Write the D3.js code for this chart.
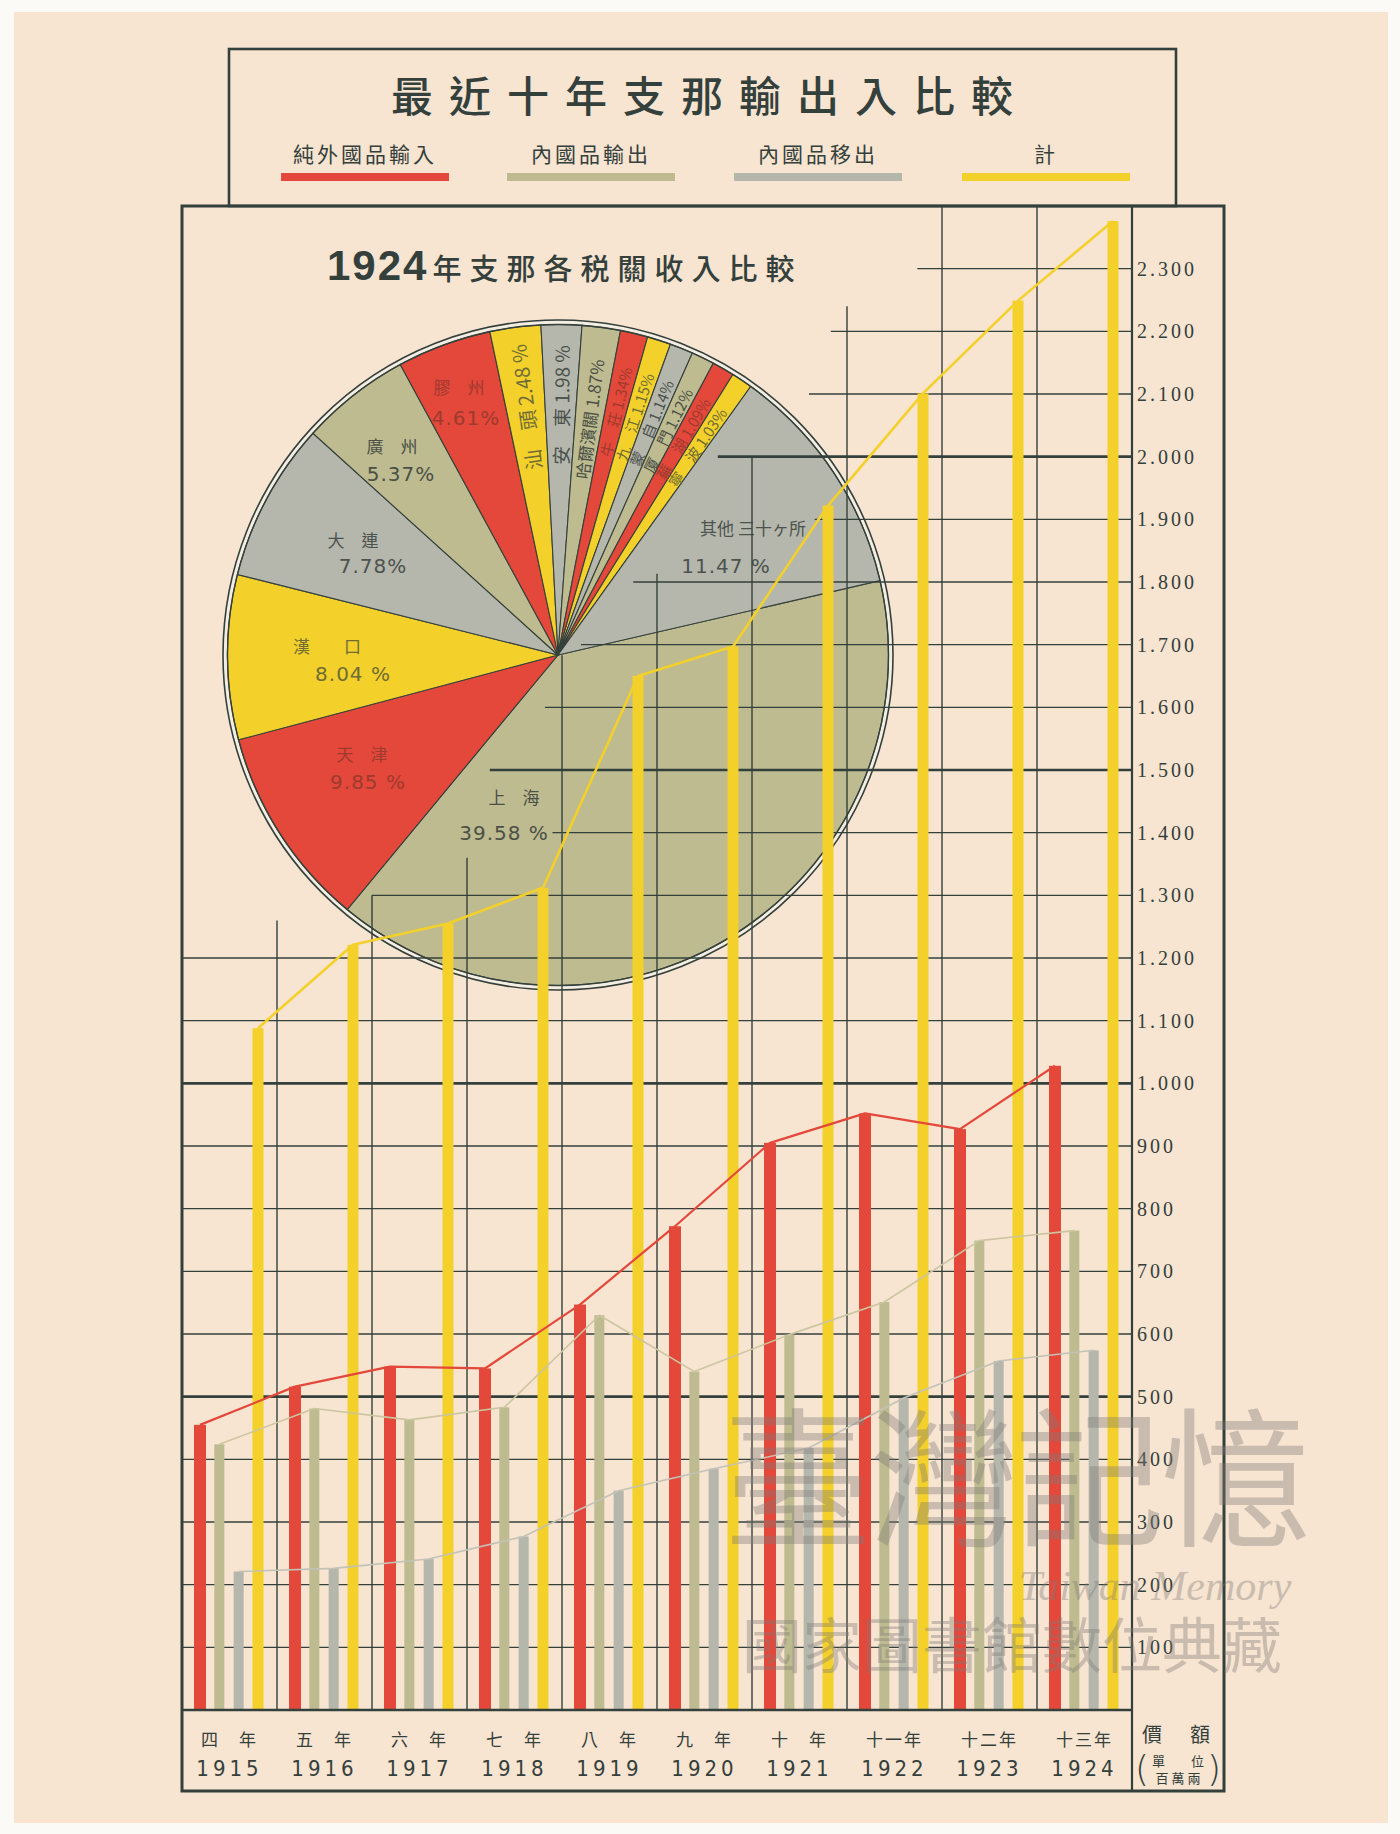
<!DOCTYPE html>
<html>
<head>
<meta charset="UTF-8">
<title>最近十年支那輸出入比較</title>
<script src="https://d3js.org/d3.v7.min.js"></script>
<style>
  body { margin: 0; background: #fbfaf7; }
  text { font-family: "Noto Sans CJK TC", "Noto Sans CJK JP", sans-serif; fill: #34403b; }
</style>
</head>
<body>
<div id="chart"></div>
<script>
// ---- data (百萬兩) ----
var years = ["1915", "1916", "1917", "1918", "1919", "1920", "1921", "1922", "1923", "1924"];
var yearsJp = ["四　年", "五　年", "六　年", "七　年", "八　年", "九　年", "十　年", "十一年", "十二年", "十三年"];
var seriesNames = ["純外國品輸入", "內國品輸出", "內國品移出", "計"];
var imports   = [455, 516, 548, 545, 647, 772, 905, 952, 927, 1028];   // 純外國品輸入
var exports   = [424, 481, 463, 483, 630, 540, 599, 651, 749, 765];    // 內國品輸出
var transfers = [221, 226, 241, 277, 350, 385, 418, 498, 557, 574];    // 內國品移出
var totals    = [1088, 1221, 1255, 1312, 1650, 1697, 1922, 2101, 2249, 2376]; // 計
var tickValues = [100, 200, 300, 400, 500, 600, 700, 800, 900, 1000, 1100, 1200,
                  1300, 1400, 1500, 1600, 1700, 1800, 1900, 2000, 2100, 2200, 2300];
var tickLabels = ["100", "200", "300", "400", "500", "600", "700", "800", "900", "1.000", "1.100", "1.200",
                  "1.300", "1.400", "1.500", "1.600", "1.700", "1.800", "1.900", "2.000", "2.100", "2.200", "2.300"];

// 1924年支那各税關收入比較 (%)
var ports = ["上海", "天津", "漢口", "大連", "廣州", "膠州", "汕頭", "安東", "哈爾濱關",
             "牛荘", "九江", "蒙自", "厦門", "蕪湖", "寧波", "其他三十ヶ所"];
var portShares = [39.58, 9.85, 8.04, 7.78, 5.37, 4.61, 2.48, 1.98, 1.87,
                  1.34, 1.15, 1.14, 1.12, 1.09, 1.03, 11.47];

// ---- style / layout ----
var C = { red: "#e4483a", olive: "#bdbb8f", grey: "#b5b7ad", yellow: "#f4d02b",
          ink: "#34403b", paper: "#f7e4d1" };
var seriesColors = [C.red, C.olive, C.grey, C.yellow];
var barWidths = [12, 10, 10, 11];
var lineColors = [C.red, "#cbc6a0", "#c2c2b7", C.yellow];
var lineWidths = [2.2, 1.6, 1.6, 2.6];
var pieColors = [C.olive, C.red, C.yellow, C.grey];
var textOn = {};
textOn[C.olive] = "#4a5046"; textOn[C.red] = "#9e3a2e"; textOn[C.yellow] = "#6f6d35"; textOn[C.grey] = "#4c524e";

// where grid lines above 1000 begin (column units from the left frame)
var hStart = {1300: 2.0, 1400: 3.9, 1500: 3.24, 1600: 3.82, 1700: 4.2, 1800: 4.75,
              1900: 6.66, 2000: 5.64, 2100: 6.6, 2200: 6.83, 2300: 7.74};
// top of each vertical column line (value units)
var vTop = [2400, 1260, 1300, 1360, 1683, 1813, 2000, 2240, 2400, 2400, 2400];

var W = 1400, H = 1834;
var plotLeft = 182, plotRight = 1132, frameRight = 1224, plotTop = 206, base = 1710, frameBottom = 1791;

var svg = d3.select("#chart").append("svg")
    .attr("width", W).attr("height", H);

// paper
svg.append("rect").attr("x", 14).attr("y", 12).attr("width", 1374).attr("height", 1811)
    .attr("fill", C.paper);

var x = d3.scaleBand().domain(years).range([plotLeft, plotRight]).padding(0);
var xs = d3.scalePoint().domain(seriesNames).range([18, 76]);
var y = d3.scaleLinear().domain([0, 2400]).range([base, plotTop]);
var col = x.bandwidth();

// ---- pie ----
var pcx = 558, pcy = 655, pr = 330.5;
var pie = d3.pie().sort(null)
    .startAngle(77 * Math.PI / 180).endAngle(77 * Math.PI / 180 + 2 * Math.PI)
    .value(function (d) { return d; });
var arcs = pie(portShares);
var arc = d3.arc().innerRadius(0).outerRadius(pr);
var gp = svg.append("g").attr("transform", "translate(" + pcx + "," + pcy + ")");
gp.append("circle").attr("r", 335).attr("fill", "#f3ede2").attr("stroke", C.ink).attr("stroke-width", 1.6);
gp.selectAll("path.slice").data(arcs).enter().append("path")
    .attr("class", "slice")
    .attr("d", arc)
    .attr("fill", function (d, i) { return pieColors[i % 4]; })
    .attr("stroke", C.ink).attr("stroke-width", 1.1);
gp.append("circle").attr("r", pr).attr("fill", "none").attr("stroke", C.ink).attr("stroke-width", 1.4);

// big slice labels: [name dx, name dy, pct dx, pct dy]
var bigLabels = {
  "上海": [-44, 141, -54, 178], "天津": [-196, 98, -190, 127], "漢口": [-231, -10, -205, 19],
  "大連": [-205, -116, -185, -89], "廣州": [-166, -210, -157, -181], "膠州": [-99, -269, -92, -237],
  "其他三十ヶ所": [195, -128, 168, -89]
};
var bigNames = { "上海": "上　海", "天津": "天　津", "漢口": "漢　　口", "大連": "大　連",
                 "廣州": "廣　州", "膠州": "膠　州", "其他三十ヶ所": "其他 三十ヶ所" };
arcs.forEach(function (a, i) {
  var name = ports[i], fill = pieColors[i % 4], tc = textOn[fill];
  var pct = portShares[i].toFixed(2) + (name === "上海" || name === "天津" || name === "漢口" || name === "其他三十ヶ所" ? " %" : "%");
  if (bigLabels[name]) {
    var p = bigLabels[name];
    gp.append("text").attr("x", p[0]).attr("y", p[1]).attr("text-anchor", "middle")
      .attr("dominant-baseline", "central").style("font-size", "17px").style("fill", tc)
      .text(bigNames[name]);
    gp.append("text").attr("x", p[2]).attr("y", p[3]).attr("text-anchor", "middle")
      .attr("dominant-baseline", "central")
      .style("font-family", "'DejaVu Sans', sans-serif").style("font-size", "20px")
      .style("letter-spacing", "1px").style("fill", tc)
      .text(pct);
  } else {
    var mid = (a.startAngle + a.endAngle) / 2;
    var deg = mid * 180 / Math.PI;
    var fs = name === "汕頭" ? 20 : (name === "安東" ? 19 : (name === "哈爾濱關" ? 17 : 15));
    var r = name === "哈爾濱關" ? 238 : 250;
    var lbl = name.length === 2 ? name[0] + "　" + name[1] : name;
    gp.append("text")
      .attr("transform", "translate(" + (r * Math.sin(mid)) + "," + (-r * Math.cos(mid)) + ") rotate(" + (deg - 90) + ")")
      .attr("text-anchor", "middle").attr("dominant-baseline", "central")
      .style("font-size", fs + "px").style("fill", tc)
      .text(lbl + "  " + portShares[i].toFixed(2) + (name === "汕頭" || name === "安東" ? " %" : "%"));
  }
});

// ---- grid ----
var grid = svg.append("g").attr("stroke", C.ink).attr("fill", "none");
tickValues.forEach(function (v) {
  var sx = hStart[v] !== undefined ? plotLeft + hStart[v] * col : plotLeft;
  grid.append("line").attr("x1", sx).attr("x2", plotRight)
    .attr("y1", y(v)).attr("y2", y(v))
    .attr("stroke-width", v % 500 === 0 ? 2.6 : 1.4);
});
vTop.forEach(function (t, i) {
  grid.append("line").attr("x1", plotLeft + i * col).attr("x2", plotLeft + i * col)
    .attr("y1", y(t)).attr("y2", base).attr("stroke-width", 1.4);
});

// ---- bars ----
var series = [imports, exports, transfers, totals];
series.forEach(function (vals, s) {
  svg.append("g").selectAll("rect").data(vals).enter().append("rect")
    .attr("x", function (d, i) { return x(years[i]) + xs(seriesNames[s]) - barWidths[s] / 2; })
    .attr("y", function (d) { return y(d); })
    .attr("width", barWidths[s])
    .attr("height", function (d) { return base - y(d); })
    .attr("fill", seriesColors[s]);
});
// connecting lines
series.forEach(function (vals, s) {
  var line = d3.line()
    .x(function (d, i) { return x(years[i]) + xs(seriesNames[s]); })
    .y(function (d) { return y(d); });
  svg.append("path").datum(vals).attr("d", line)
    .attr("fill", "none").attr("stroke", lineColors[s]).attr("stroke-width", lineWidths[s])
    .attr("stroke-linejoin", "round");
});

// ---- frame & axis ----
svg.append("line").attr("x1", plotLeft).attr("x2", plotRight).attr("y1", base).attr("y2", base)
  .attr("stroke", C.ink).attr("stroke-width", 2.6);
svg.append("line").attr("x1", plotRight).attr("x2", plotRight).attr("y1", plotTop).attr("y2", frameBottom)
  .attr("stroke", C.ink).attr("stroke-width", 2.2);
svg.append("rect").attr("x", plotLeft).attr("y", plotTop).attr("width", frameRight - plotLeft).attr("height", frameBottom - plotTop)
  .attr("fill", "none").attr("stroke", C.ink).attr("stroke-width", 3);

var axis = svg.append("g").attr("transform", "translate(" + plotRight + ",0)")
  .call(d3.axisRight(y).tickValues(tickValues).tickSize(0).tickPadding(5)
        .tickFormat(function (d, i) { return tickLabels[i]; }));
axis.select(".domain").remove();
axis.selectAll("text")
  .style("font-family", "'Liberation Serif', 'DejaVu Serif', serif")
  .style("font-size", "20px").style("letter-spacing", "3px").style("fill", C.ink);

// year labels
svg.append("g").selectAll("text").data(yearsJp).enter().append("text")
  .attr("x", function (d, i) { return x(years[i]) + col / 2; })
  .attr("y", 1738).attr("text-anchor", "middle").attr("dominant-baseline", "central")
  .style("font-size", "17px").style("letter-spacing", "2px")
  .text(function (d) { return d; });
svg.append("g").selectAll("text").data(years).enter().append("text")
  .attr("x", function (d) { return x(d) + col / 2; })
  .attr("y", 1768).attr("text-anchor", "middle").attr("dominant-baseline", "central")
  .style("font-family", "'Liberation Sans Narrow', 'DejaVu Sans Condensed', sans-serif")
  .style("font-size", "22px").style("letter-spacing", "4px")
  .text(function (d) { return d; });

// unit box
var ux = (plotRight + frameRight) / 2;
svg.append("text").attr("x", ux).attr("y", 1733).attr("text-anchor", "middle").attr("dominant-baseline", "central")
  .style("font-size", "20px").style("letter-spacing", "4px").text("價　額");
svg.append("text").attr("x", ux).attr("y", 1760).attr("text-anchor", "middle").attr("dominant-baseline", "central")
  .style("font-size", "13px").text("單　　位");
svg.append("text").attr("x", ux).attr("y", 1777).attr("text-anchor", "middle").attr("dominant-baseline", "central")
  .style("font-size", "13px").text("百 萬 兩");
svg.append("text").attr("x", ux - 36).attr("y", 1768).attr("text-anchor", "middle").attr("dominant-baseline", "central")
  .style("font-family", "'DejaVu Sans', sans-serif").style("font-size", "36px").style("font-weight", "200").text("(");
svg.append("text").attr("x", ux + 36).attr("y", 1768).attr("text-anchor", "middle").attr("dominant-baseline", "central")
  .style("font-family", "'DejaVu Sans', sans-serif").style("font-size", "36px").style("font-weight", "200").text(")");

// ---- title box & legend ----
svg.append("rect").attr("x", 229).attr("y", 49).attr("width", 947).attr("height", plotTop - 49)
  .attr("fill", "none").attr("stroke", C.ink).attr("stroke-width", 2.6);
svg.append("text").attr("x", 710).attr("y", 93).attr("text-anchor", "middle").attr("dominant-baseline", "central")
  .style("font-size", "42px").style("font-weight", "500").style("letter-spacing", "16px")
  .text("最近十年支那輸出入比較");
var legendX = [365, 591, 818, 1046];
seriesNames.forEach(function (n, i) {
  svg.append("text").attr("x", legendX[i]).attr("y", 153).attr("text-anchor", "middle")
    .attr("dominant-baseline", "central").style("font-size", "21px").style("letter-spacing", "3px").text(n);
  svg.append("line").attr("x1", legendX[i] - 84).attr("x2", legendX[i] + 84)
    .attr("y1", 177).attr("y2", 177).attr("stroke", seriesColors[i]).attr("stroke-width", 8);
});

// pie title
var pt = svg.append("text").attr("x", 327).attr("y", 280);
pt.append("tspan").style("font-family", "'Liberation Sans', 'DejaVu Sans', sans-serif")
  .style("font-size", "42px").style("font-weight", "700").style("letter-spacing", "2px").text("1924");
pt.append("tspan").style("font-size", "29px").style("font-weight", "500").style("letter-spacing", "8px")
  .attr("dx", 4).text("年支那各税關收入比較");

// provider watermark
var wm = svg.append("g").style("opacity", 0.38);
wm.append("text").attr("x", 1015).attr("y", 1535).attr("text-anchor", "middle")
  .style("font-size", "150px").style("font-weight", "400").style("fill", "#7f7c79").style("letter-spacing", "-4px")
  .text("臺灣記憶");
wm.append("text").attr("x", 1155).attr("y", 1600).attr("text-anchor", "middle")
  .style("font-family", "'Liberation Serif', serif").style("font-style", "italic")
  .style("font-size", "42px").style("fill", "#7f7c79").text("Taiwan Memory");
wm.append("text").attr("x", 1012).attr("y", 1668).attr("text-anchor", "middle")
  .style("font-size", "60px").style("fill", "#7f7c79").text("國家圖書館數位典藏");
</script>
</body>
</html>
